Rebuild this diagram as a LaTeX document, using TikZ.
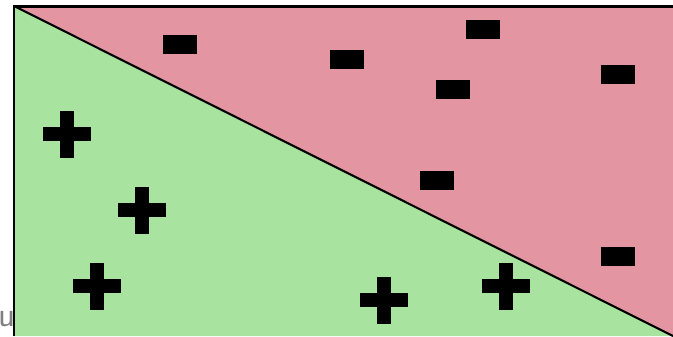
\documentclass[tikz,border=0pt]{standalone}
\definecolor{posgreen}{RGB}{168,228,160}
\definecolor{negpink}{RGB}{227,150,162}
\tikzset{
  minusbar/.style={fill=black, draw=black, inner sep=0pt, minimum width=0.66cm, minimum height=0.36cm},
  plush/.style={fill=black, inner sep=0pt, minimum width=0.96cm, minimum height=0.28cm},
  plusv/.style={fill=black, inner sep=0pt, minimum width=0.28cm, minimum height=0.94cm},
}
\begin{document}
\begin{tikzpicture}[x=0.02cm, y=-0.02cm]
                \useasboundingbox (0,0) rectangle (673,336);
                % Regions
                \coordinate (tl) at (14,6);
                \coordinate (br) at (673,336);
                \fill[posgreen] (tl) -- (br) -- (14,336) -- cycle;
                \fill[negpink] (tl) -- (673,6) -- (br) -- cycle;
                % Borders and separator
                \draw[line width=1.7pt] (14,336) -- (tl) -- (673,6);
                \draw[line width=1.2pt] (tl) -- (br);
                % Negative samples
                \foreach \x/\y [count=\i] in {180/44, 347/59, 483/29, 453/89, 618/74, 437/180, 618/256}
                    \node[minusbar] (m\i) at (\x,\y) {};
                % Positive samples
                \foreach \x/\y [count=\i] in {67/134, 142/210, 97/286, 384/300, 506/286} {
                    \node[plush] (p\i) at (\x,\y) {};
                    \node[plusv] (q\i) at (\x,\y) {};
                }
                \node[text=gray, font=\sffamily\fontsize{20}{20}\selectfont] (lbl) at (7,319) {u};
            \end{tikzpicture}
\end{document}
